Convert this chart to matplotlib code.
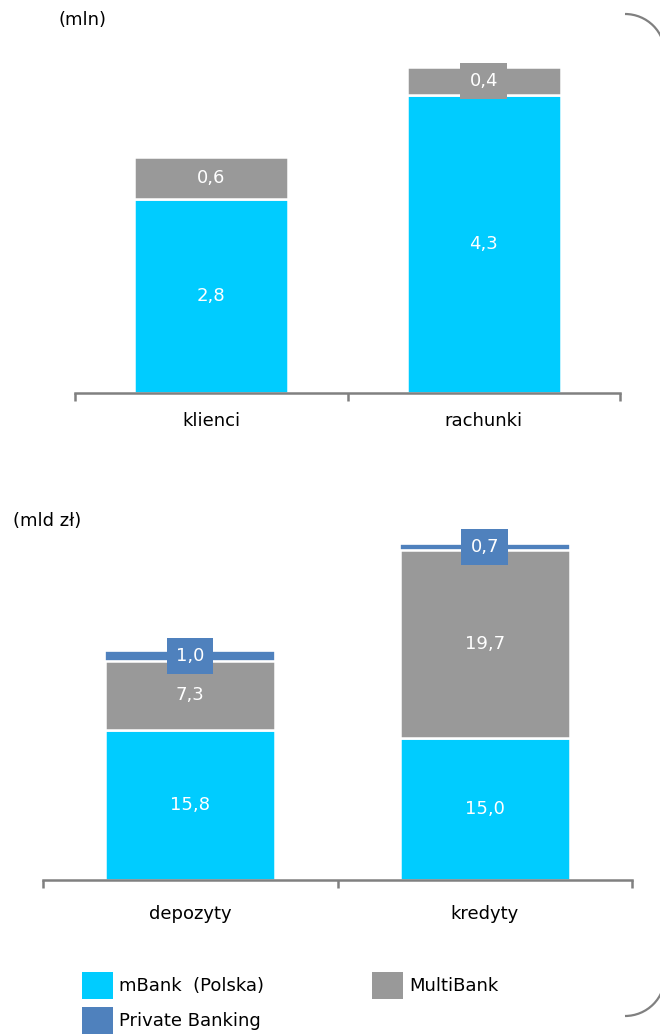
import matplotlib
matplotlib.use("Agg")
import matplotlib.pyplot as plt
from matplotlib.patches import Arc

plt.rcParams['font.family'] = ['DejaVu Sans']

# dane - liczba klientów / rachunków (mln)
kat_gora = ["klienci", "rachunki"]
mbank_gora = [2.8, 4.3]
multi_gora = [0.6, 0.4]

# dane - depozyty / kredyty (mld zł)
kat_dol = ["depozyty", "kredyty"]
mbank_dol = [15.8, 15.0]
multi_dol = [7.3, 19.7]
pb_dol = [1.0, 0.7]

C_MBANK = "#00CCFF"
C_MULTI = "#999999"
C_PB = "#4F81BD"
C_AXIS = "#808080"

def fmt(v):
    return f"{v:.1f}".replace(".", ",")

def setup_axis(ax, n, pad):
    for s in ["top", "left", "right"]:
        ax.spines[s].set_visible(False)
    ax.spines["bottom"].set_color(C_AXIS)
    ax.spines["bottom"].set_linewidth(1.8)
    ax.set_xlim(-0.5, n - 0.5)
    ax.set_yticks([])
    ax.set_xticks(range(n))
    ax.set_xticks([i - 0.5 for i in range(n + 1)], minor=True)
    ax.tick_params(axis="x", which="major", length=0, pad=pad, labelsize=13)
    ax.tick_params(axis="x", which="minor", length=6, width=1.8, color=C_AXIS)

def seg_label(ax, x, y, v, box=None):
    kw = {}
    if box:
        kw["bbox"] = dict(boxstyle="square,pad=0.5", fc=box, ec="none")
    ax.text(x, y, fmt(v), ha="center", va="center", color="white",
            fontsize=13, clip_on=False, **kw)

fig = plt.figure(figsize=(6.6, 10.35), dpi=100)

# --- wykres górny ---
ax1 = fig.add_axes([75/660, 1 - 393/1035, 545/660, 5*69.3/1035])
x1 = range(len(kat_gora))
w1 = 0.565
b1 = ax1.bar(x1, mbank_gora, w1, color=C_MBANK, edgecolor="white", linewidth=1.8)
b2 = ax1.bar(x1, multi_gora, w1, bottom=mbank_gora, color=C_MULTI, edgecolor="white", linewidth=1.8)
ax1.set_ylim(0, 5)
setup_axis(ax1, len(kat_gora), 14)
ax1.set_xticklabels(kat_gora)
for i in x1:
    seg_label(ax1, i, mbank_gora[i] / 2, mbank_gora[i])
    seg_label(ax1, i, mbank_gora[i] + multi_gora[i] / 2, multi_gora[i], box=C_MULTI)

# --- wykres dolny ---
ax2 = fig.add_axes([43/660, 1 - 880/1035, 589/660, 37*9.5/1035])
x2 = range(len(kat_dol))
w2 = 0.577
bot2 = [a + b for a, b in zip(mbank_dol, multi_dol)]
h1 = ax2.bar(x2, mbank_dol, w2, color=C_MBANK, edgecolor="white", linewidth=1.8)
h2 = ax2.bar(x2, multi_dol, w2, bottom=mbank_dol, color=C_MULTI, edgecolor="white", linewidth=1.8)
h3 = ax2.bar(x2, pb_dol, w2, bottom=bot2, color=C_PB, edgecolor="white", linewidth=1.2)
ax2.set_ylim(0, 37)
setup_axis(ax2, len(kat_dol), 18)
ax2.set_xticklabels(kat_dol)
for i in x2:
    seg_label(ax2, i, mbank_dol[i] / 2, mbank_dol[i])
    seg_label(ax2, i, mbank_dol[i] + multi_dol[i] / 2, multi_dol[i])
    seg_label(ax2, i, bot2[i] + pb_dol[i] / 2, pb_dol[i], box=C_PB)

# jednostki
fig.text(58/660, 1 - 20/1035, "(mln)", fontsize=13, va="center", ha="left")
fig.text(13/660, 1 - 521/1035, "(mld zł)", fontsize=13, va="center", ha="left")

# legenda
leg = fig.legend([h1, h3, h2], ["mBank  (Polska)", "Private Banking", "MultiBank"],
                 ncol=2, loc="upper left", bbox_to_anchor=(82/660, 1 - 972/1035),
                 frameon=False, fontsize=13, borderpad=0, borderaxespad=0,
                 handlelength=1.7, handleheight=1.9, handletextpad=0.35,
                 labelspacing=0.45, columnspacing=6.0)
for h in leg.legend_handles:
    h.set_edgecolor("none")

# zaokrąglone narożniki ramki
fig.add_artist(Arc((6.25, (1035 - 54) / 100), 0.8, 0.8, theta1=0, theta2=90,
                   transform=fig.dpi_scale_trans, color=C_AXIS, lw=1.6))
fig.add_artist(Arc((6.25, (1035 - 976) / 100), 0.8, 0.8, theta1=270, theta2=360,
                   transform=fig.dpi_scale_trans, color=C_AXIS, lw=1.6))

fig.savefig("out.png", dpi=100)
